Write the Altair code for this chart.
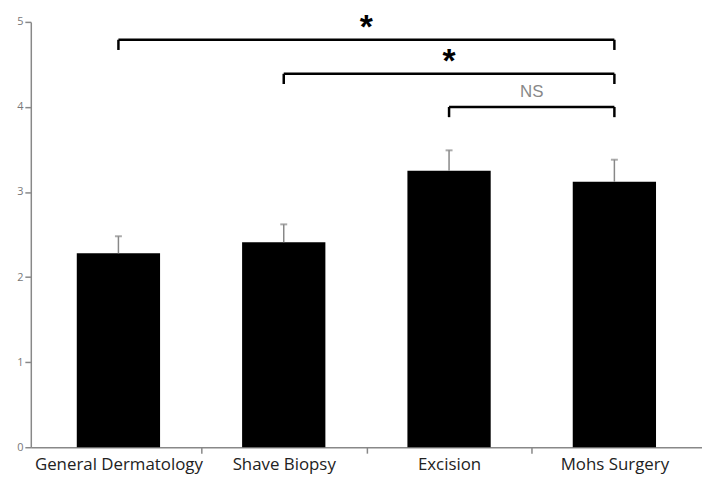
import altair as alt
import pandas as pd

categories = ["General Dermatology", "Shave Biopsy", "Excision", "Mohs Surgery"]
means = [2.28, 2.41, 3.25, 3.12]
errors = [0.20, 0.21, 0.24, 0.26]

bracket_start = [0, 1, 2]
bracket_end = [3, 3, 3]
bracket_level = [4.79, 4.39, 4.0]
bracket_drop = [0.12, 0.12, 0.12]
bracket_label = ["*", "*", "NS"]
label_y = [4.93, 4.53, 4.17]

df = pd.DataFrame({"cat": categories, "idx": list(range(len(categories))),
                   "mean": means, "err": errors})
df["top"] = df["mean"] + df["err"]

br = pd.DataFrame({"s": bracket_start, "e": bracket_end, "lvl": bracket_level,
                   "drop": bracket_drop, "lab": bracket_label, "ly": label_y})
br["mid"] = (br["s"] + br["e"]) / 2
br["low"] = br["lvl"] - br["drop"]
legs = pd.concat([br.assign(x=br["s"]), br.assign(x=br["e"])])

label_expr = "[" + ",".join("'" + c + "'" for c in categories) + "][datum.value]"

xscale = alt.Scale(domain=[-0.5, 3.5], nice=False, zero=False)
yscale = alt.Scale(domain=[0, 5], nice=False)

yaxis = alt.Axis(values=[0, 1, 2, 3, 4, 5], format="d", grid=False, title=None, domainColor="#888",
                 domainWidth=1.5, tickColor="#888", tickSize=6, tickWidth=1.5,
                 labelColor="#777", labelFont="Open Sans", labelFontSize=11, labelPadding=2)


def X(field):
    return alt.X(field, scale=xscale, axis=None)


base = alt.Chart(df)

bars = base.mark_bar(size=84, color="black").encode(
    x=alt.X("idx:Q", scale=xscale,
            axis=alt.Axis(values=[0, 1, 2, 3], labelExpr=label_expr, ticks=False, grid=False,
                          orient="bottom", title=None, domainColor="#888", domainWidth=1.5,
                          labelColor="#222", labelFont="Open Sans", labelFontSize=17,
                          labelPadding=9)),
    y=alt.Y("mean:Q", scale=yscale, axis=yaxis),
)

tickaxis = alt.Chart(df).mark_point(opacity=0).encode(
    x=alt.X("idx:Q", scale=xscale,
            axis=alt.Axis(values=[0.5, 1.5, 2.5], labels=False, grid=False, title=None,
                          orient="bottom", domain=False, tickColor="#888", tickSize=6,
                          tickWidth=1.5)),
    y=alt.Y("mean:Q", scale=yscale, axis=yaxis),
)

err = base.mark_rule(color="#888", strokeWidth=1.5).encode(
    x=X("idx:Q"), y="mean:Q", y2="top:Q")
caps = base.mark_tick(color="#888", orient="horizontal", size=7, thickness=2).encode(
    x=X("idx:Q"), y="top:Q")

hbar = alt.Chart(br).mark_rule(color="black", strokeWidth=2.5).encode(
    x=X("s:Q"), x2="e:Q", y="lvl:Q")
vleg = alt.Chart(legs).mark_rule(color="black", strokeWidth=2.5).encode(
    x=X("x:Q"), y="lvl:Q", y2="low:Q")

stars = alt.Chart(br[br["lab"] == "*"]).mark_text(
    fontSize=34, fontWeight="bold", font="Liberation Sans", baseline="middle").encode(
    x=X("mid:Q"), y="ly:Q", text="lab:N")
ns = alt.Chart(br[br["lab"] != "*"]).mark_text(
    fontSize=17, font="Liberation Sans", color="#888", baseline="middle").encode(
    x=X("mid:Q"), y="ly:Q", text="lab:N")

chart = alt.layer(bars, tickaxis, err, caps, hbar, vleg, stars, ns).resolve_axis(
    x="independent").properties(
    width=677, height=429,
    autosize=alt.AutoSizeParams(type="none"),
    padding={"left": 23, "top": 12, "right": 0, "bottom": 26},
).configure_view(stroke=None)

chart.save("out.html", embed_options={"renderer": "svg", "actions": False})
